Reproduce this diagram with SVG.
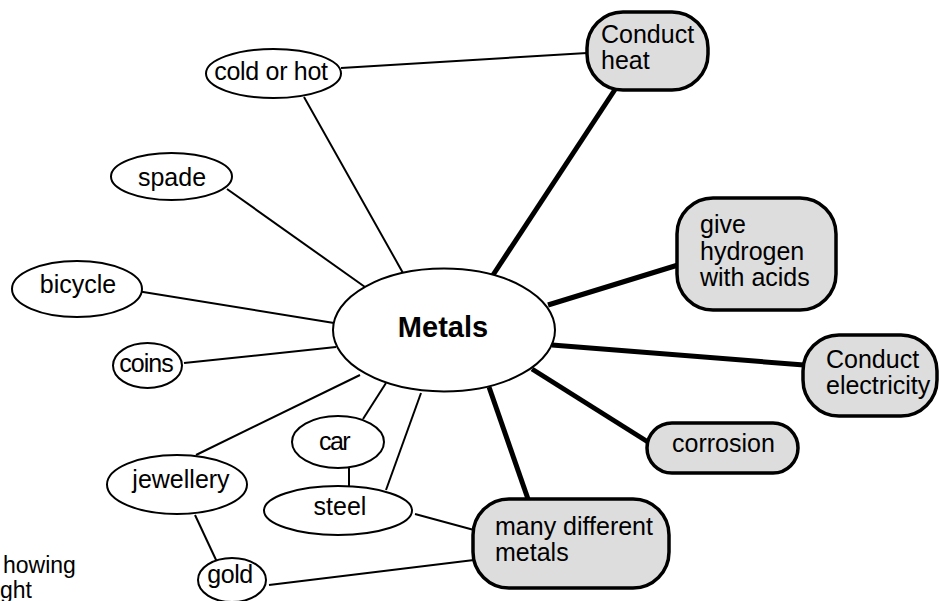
<svg xmlns="http://www.w3.org/2000/svg" width="939" height="601" viewBox="0 0 939 601">
<style>
text{font-family:"Liberation Sans",Arial,Helvetica,sans-serif;font-size:25px;fill:#000}
.c{text-anchor:middle}
.cap{font-size:23px}
.el{fill:#fff;stroke:#000;stroke-width:2}
.bx{fill:#dddddd;stroke:#000;stroke-width:3.5}
.thin{stroke:#000;stroke-width:2;fill:none}
.thick{stroke:#000;stroke-width:5;fill:none}
</style>
<rect width="939" height="601" fill="#fff"/>
<g id="connectors">
<line class="thin" x1="341" y1="68" x2="587" y2="53"/>
<line class="thin" x1="304" y1="97" x2="403" y2="273"/>
<line class="thin" x1="227" y1="189" x2="365" y2="287"/>
<line class="thin" x1="137" y1="291" x2="334" y2="323"/>
<line class="thin" x1="184" y1="363" x2="336" y2="347"/>
<line class="thin" x1="196" y1="455" x2="360" y2="375"/>
<line class="thin" x1="363" y1="419" x2="386" y2="383"/>
<line class="thin" x1="386" y1="490" x2="421" y2="393"/>
<line class="thin" x1="349" y1="468" x2="349" y2="486"/>
<line class="thin" x1="195" y1="515" x2="217" y2="562"/>
<line class="thin" x1="415" y1="514" x2="474" y2="530"/>
<line class="thin" x1="269" y1="585" x2="474" y2="560"/>
<line class="thick" x1="493" y1="275" x2="616" y2="88"/>
<line class="thick" x1="548" y1="305" x2="678" y2="265"/>
<line class="thick" x1="552" y1="345" x2="804" y2="365"/>
<line class="thick" x1="532" y1="369" x2="648" y2="442"/>
<line class="thick" x1="489" y1="387" x2="528" y2="499"/>
</g>
<g id="metals">
<ellipse class="el" cx="444" cy="330" rx="111" ry="61.5"/>
<text class="c" x="443" y="337" style="font-weight:bold;font-size:29px">Metals</text>
</g>
<g id="cold-or-hot">
<ellipse class="el" cx="273.5" cy="73.5" rx="67.5" ry="24.5"/>
<text class="c" x="271" y="80" style="letter-spacing:-0.3px">cold or hot</text>
</g>
<g id="spade">
<ellipse class="el" cx="171.5" cy="176.5" rx="60.5" ry="23.5"/>
<text class="c" x="172" y="186">spade</text>
</g>
<g id="bicycle">
<ellipse class="el" cx="77" cy="289" rx="65" ry="28"/>
<text class="c" x="78" y="293">bicycle</text>
</g>
<g id="coins">
<ellipse class="el" cx="147.5" cy="365.5" rx="34.5" ry="22.5"/>
<text class="c" x="146" y="372" style="letter-spacing:-1px">coins</text>
</g>
<g id="jewellery">
<ellipse class="el" cx="177" cy="484.5" rx="70" ry="29.5"/>
<text class="c" x="181" y="488">jewellery</text>
</g>
<g id="car">
<ellipse class="el" cx="338" cy="442" rx="46" ry="26"/>
<text class="c" x="334" y="450" style="letter-spacing:-1.5px">car</text>
</g>
<g id="steel">
<ellipse class="el" cx="338" cy="510.5" rx="74" ry="24.5"/>
<text class="c" x="340" y="515">steel</text>
</g>
<g id="gold">
<ellipse class="el" cx="232" cy="580" rx="34" ry="22"/>
<text class="c" x="230" y="583" style="letter-spacing:-0.5px">gold</text>
</g>
<g id="conduct-heat">
<rect class="bx" x="587" y="12" width="121" height="78" rx="36" ry="36"/>
<text x="601" y="43">Conduct</text>
<text x="601" y="69">heat</text>
</g>
<g id="give-hydrogen">
<rect class="bx" x="677" y="198" width="159" height="112" rx="36" ry="36"/>
<text x="700" y="233">give</text>
<text x="700" y="260">hydrogen</text>
<text x="700" y="286">with acids</text>
</g>
<g id="conduct-electricity">
<rect class="bx" x="803" y="335" width="134" height="81" rx="36" ry="36"/>
<text x="826" y="368">Conduct</text>
<text x="826" y="394">electricity</text>
</g>
<g id="corrosion">
<rect class="bx" x="647" y="423" width="151" height="50" rx="25" ry="25"/>
<text x="672" y="452">corrosion</text>
</g>
<g id="many-different-metals">
<rect class="bx" x="473" y="499" width="196" height="89" rx="36" ry="36"/>
<text x="495" y="535">many different</text>
<text x="495" y="561">metals</text>
</g>
<g id="caption">
<text class="cap" x="3" y="573">howing</text>
<text class="cap" x="0" y="598">ght</text>
</g>
</svg>
